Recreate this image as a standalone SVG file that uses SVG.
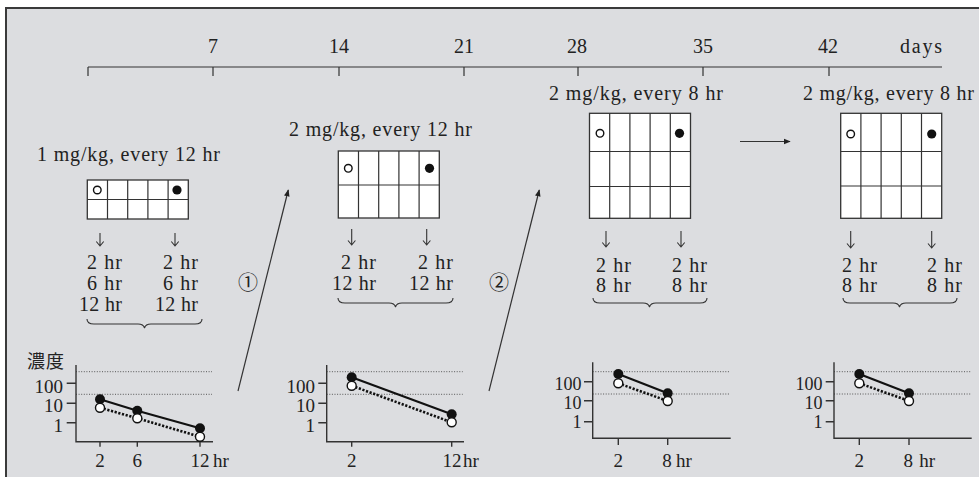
<svg xmlns="http://www.w3.org/2000/svg" width="979" height="477" viewBox="0 0 979 477">
<defs>
<style>
.t{font-family:"Liberation Serif","DejaVu Serif",serif;font-size:20px;fill:#222}
.ts{font-family:"Liberation Serif","DejaVu Serif",serif;font-size:19px;fill:#222}
.tk{font-family:"Liberation Serif","DejaVu Serif",serif;font-size:18px;fill:#222}
.jp{font-family:"Noto Sans CJK JP","Noto Sans CJK SC",sans-serif;font-size:18px;fill:#222}
.ln{stroke:#333;stroke-width:1.2;fill:none}
.ax{stroke:#333;stroke-width:1.4;fill:none}
.grid{fill:#fff;stroke:#333;stroke-width:1.3}
.gl{stroke:#333;stroke-width:1.2;fill:none}
.dot{stroke:#555;stroke-width:1;stroke-dasharray:1 1.6;fill:none}
.sol{stroke:#111;stroke-width:2.2;fill:none}
.dsh{stroke:#111;stroke-width:2.6;stroke-dasharray:2.2 1.6;fill:none}
.fc{fill:#111}
.oc{fill:#fff;stroke:#111;stroke-width:1.4}
.dn{stroke:#333;stroke-width:1.1;fill:none}
.br{stroke:#333;stroke-width:1.1;fill:none}
.mid{text-anchor:middle}
.end{text-anchor:end}
</style>
<marker id="ah" viewBox="0 0 10 10" refX="9" refY="5" markerWidth="7" markerHeight="7" markerUnits="userSpaceOnUse" orient="auto">
<path d="M0,1 L10,5 L0,9 Z" fill="#222"/>
</marker>
</defs>
<rect x="0" y="0" width="979" height="477" fill="#fff"/>
<rect x="6" y="8" width="990" height="490" fill="#dcdde0" stroke="#3a3a3a" stroke-width="2"/>

<g id="timeline">
<path class="ln" d="M88,67 H942 M88,67 V76 M213,67 V76 M339,67 V76 M464,67 V76 M578,67 V76 M703,67 V76 M829,67 V76"/>
<text class="t mid" x="213" y="53">7</text>
<text class="t mid" x="339" y="53">14</text>
<text class="t mid" x="464" y="53">21</text>
<text class="t mid" x="577" y="53">28</text>
<text class="t mid" x="703" y="53">35</text>
<text class="t mid" x="828" y="53">42</text>
<text class="t" x="900" y="53" textLength="42">days</text>
</g>

<g id="panel1">
<text class="t" x="37" y="161" textLength="183">1 mg/kg, every 12 hr</text>
<rect class="grid" x="87.3" y="180" width="101" height="39"/>
<path class="gl" d="M87.3,199.5 H188.3 M107.5,180 V219 M127.7,180 V219 M147.9,180 V219 M168.1,180 V219"/>
<circle class="oc" cx="97.3" cy="190" r="3.8"/>
<circle class="fc" cx="177" cy="190" r="4.6"/>
<path class="dn" d="M100,233 V246 M96.3,241.5 L100,246 L103.7,241.5 M175,233 V246 M171.3,241.5 L175,246 L178.7,241.5"/>
<text class="t end" x="122" y="269" textLength="35">2 hr</text>
<text class="t end" x="122" y="290" textLength="35">6 hr</text>
<text class="t end" x="122" y="311" textLength="43">12 hr</text>
<text class="t end" x="198" y="269" textLength="35">2 hr</text>
<text class="t end" x="198" y="290" textLength="35">6 hr</text>
<text class="t end" x="198" y="311" textLength="43">12 hr</text>
<path class="br" d="M87,319 Q87,324 94,324 L138,324 Q143.5,324 144.5,328 Q145.5,324 151,324 L195,324 Q202,324 202,319"/>
</g>

<g id="panel2">
<text class="t" x="289" y="136" textLength="183">2 mg/kg, every 12 hr</text>
<rect class="grid" x="338.3" y="151" width="101" height="67"/>
<path class="gl" d="M338.3,185 H439.3 M358.5,151 V218 M378.7,151 V218 M398.9,151 V218 M419.1,151 V218"/>
<circle class="oc" cx="348.3" cy="168.3" r="3.8"/>
<circle class="fc" cx="429.5" cy="168.3" r="4.6"/>
<path class="dn" d="M351.7,229 V245 M348,240.5 L351.7,245 L355.4,240.5 M426.7,229 V245 M423,240.5 L426.7,245 L430.4,240.5"/>
<text class="t end" x="376" y="269" textLength="35">2 hr</text>
<text class="t end" x="376" y="290" textLength="44">12 hr</text>
<text class="t end" x="453" y="269" textLength="35">2 hr</text>
<text class="t end" x="453" y="290" textLength="44">12 hr</text>
<path class="br" d="M338,298 Q338,303 345,303 L389,303 Q394.5,303 395.5,307 Q396.5,303 402,303 L446,303 Q453,303 453,298"/>
</g>

<g id="panel3">
<text class="t" x="549" y="100" textLength="174">2 mg/kg, every 8 hr</text>
<rect class="grid" x="589.5" y="113.3" width="101" height="105"/>
<path class="gl" d="M589.5,151.5 H690.5 M589.5,186.5 H690.5 M609.7,113.3 V218.3 M629.9,113.3 V218.3 M650.1,113.3 V218.3 M670.3,113.3 V218.3"/>
<circle class="oc" cx="600" cy="133.3" r="3.8"/>
<circle class="fc" cx="679.5" cy="133.3" r="4.6"/>
<path class="dn" d="M606,231 V247 M602.3,242.5 L606,247 L609.7,242.5 M681,231 V247 M677.3,242.5 L681,247 L684.7,242.5"/>
<text class="t end" x="631" y="272" textLength="35">2 hr</text>
<text class="t end" x="631" y="292" textLength="35">8 hr</text>
<text class="t end" x="707" y="272" textLength="35">2 hr</text>
<text class="t end" x="707" y="292" textLength="35">8 hr</text>
<path class="br" d="M593,298 Q593,303 600,303 L643,303 Q648.5,303 649.5,307 Q650.5,303 656,303 L700,303 Q707,303 707,298"/>
</g>

<g id="panel4">
<text class="t" x="803" y="100" textLength="171">2 mg/kg, every 8 hr</text>
<rect class="grid" x="840.7" y="113.3" width="101" height="105"/>
<path class="gl" d="M840.7,151.5 H941.7 M840.7,186 H941.7 M860.9,113.3 V218.3 M881.1,113.3 V218.3 M901.3,113.3 V218.3 M921.5,113.3 V218.3"/>
<circle class="oc" cx="850.7" cy="134" r="3.8"/>
<circle class="fc" cx="931.7" cy="134" r="4.6"/>
<path class="dn" d="M850.7,231 V248 M847,243.5 L850.7,248 L854.4,243.5 M931.7,231 V248 M928,243.5 L931.7,248 L935.4,243.5"/>
<text class="t end" x="877" y="272" textLength="35">2 hr</text>
<text class="t end" x="877" y="292" textLength="35">8 hr</text>
<text class="t end" x="962" y="272" textLength="35">2 hr</text>
<text class="t end" x="962" y="292" textLength="35">8 hr</text>
<path class="br" d="M843,298 Q843,303 850,303 L893,303 Q898.5,303 899.5,307 Q900.5,303 906,303 L950,303 Q957,303 957,298"/>
</g>

<g id="chart1">
<text class="jp" x="27" y="368" textLength="37">濃度</text>
<path class="dot" d="M76,371.7 H212 M76,394.3 H212"/>
<path class="ax" d="M76,365 V441.7 H213 M66.7,383.3 H76 M66.7,403.3 H76 M66.7,422.7 H76 M100,441.7 V446.7 M137.3,441.7 V446.7 M200,441.7 V446.7"/>
<text class="ts end" x="63" y="393">100</text>
<text class="ts end" x="63" y="412">10</text>
<text class="ts end" x="63" y="431.5">1</text>
<text class="ts mid" x="100" y="467">2</text>
<text class="ts mid" x="137.3" y="467">6</text>
<text class="ts mid" x="200" y="467">12</text>
<text class="ts" x="213" y="467">hr</text>
<polyline class="sol" points="100,399.3 137.3,410.7 200,428.3"/>
<polyline class="dsh" points="100,407.7 137.3,418.3 200,436.7"/>
<circle class="fc" cx="100" cy="399.3" r="5"/>
<circle class="fc" cx="137.3" cy="410.7" r="5"/>
<circle class="fc" cx="200" cy="428.3" r="5"/>
<circle class="oc" cx="100" cy="407.7" r="4.5"/>
<circle class="oc" cx="137.3" cy="418.3" r="4.5"/>
<circle class="oc" cx="200" cy="436.7" r="4.5"/>
</g>

<g id="chart2">
<path class="dot" d="M326.7,371.7 H462.7 M326.7,394.3 H462.7"/>
<path class="ax" d="M326.7,365 V441.7 H464 M318.3,383.3 H326.7 M318.3,403.3 H326.7 M318.3,422.7 H326.7 M351.7,441.7 V446.7 M451.7,441.7 V446.7"/>
<text class="ts end" x="315" y="393">100</text>
<text class="ts end" x="315" y="412">10</text>
<text class="ts end" x="315" y="431.5">1</text>
<text class="ts mid" x="351.7" y="467">2</text>
<text class="ts mid" x="452" y="467">12</text>
<text class="ts" x="463" y="467">hr</text>
<line class="sol" x1="351.7" y1="377.3" x2="451.7" y2="414.3"/>
<line class="dsh" x1="351.7" y1="385.7" x2="451.7" y2="422.3"/>
<circle class="fc" cx="351.7" cy="377.3" r="5"/>
<circle class="fc" cx="451.7" cy="414.3" r="5"/>
<circle class="oc" cx="351.7" cy="385.7" r="4.5"/>
<circle class="oc" cx="451.7" cy="422.3" r="4.5"/>
</g>

<g id="chart3">
<path class="dot" d="M592.7,371.7 H729.3 M592.7,394 H729.3"/>
<path class="ax" d="M592.7,362.3 V438.3 H730.7 M584,381.7 H592.7 M584,400.7 H592.7 M584,421.7 H592.7 M618.3,438.3 V445 M667.7,438.3 V445"/>
<text class="tk end" x="581.5" y="389.5">100</text>
<text class="tk end" x="581.5" y="408.5">10</text>
<text class="tk end" x="581.5" y="428">1</text>
<text class="ts mid" x="618.3" y="467">2</text>
<text class="ts mid" x="667" y="467">8</text>
<text class="ts" x="676" y="467">hr</text>
<line class="sol" x1="618.3" y1="374" x2="667.7" y2="393.3"/>
<line class="dsh" x1="618.3" y1="383.3" x2="667.7" y2="401"/>
<circle class="fc" cx="618.3" cy="374" r="5"/>
<circle class="fc" cx="667.7" cy="393.3" r="5"/>
<circle class="oc" cx="618.3" cy="383.3" r="4.5"/>
<circle class="oc" cx="667.7" cy="401" r="4.5"/>
</g>

<g id="chart4">
<path class="dot" d="M834,371.7 H971 M834,394 H971"/>
<path class="ax" d="M834,362.3 V438.3 H971.7 M825.7,381.7 H834 M825.7,400.7 H834 M825.7,421.7 H834 M859.3,438.3 V445 M909,438.3 V445"/>
<text class="tk end" x="822.5" y="389.5">100</text>
<text class="tk end" x="822.5" y="408.5">10</text>
<text class="tk end" x="822.5" y="428">1</text>
<text class="ts mid" x="859.3" y="467">2</text>
<text class="ts mid" x="908.3" y="467">8</text>
<text class="ts" x="919.3" y="467">hr</text>
<line class="sol" x1="859.3" y1="374" x2="909" y2="393.3"/>
<line class="dsh" x1="859.3" y1="383.3" x2="909" y2="401"/>
<circle class="fc" cx="859.3" cy="374" r="5"/>
<circle class="fc" cx="909" cy="393.3" r="5"/>
<circle class="oc" cx="859.3" cy="383.3" r="4.5"/>
<circle class="oc" cx="909" cy="401" r="4.5"/>
</g>

<g id="connectors">
<line class="ln" x1="238" y1="391" x2="288.3" y2="190" marker-end="url(#ah)"/>
<line class="ln" x1="489" y1="391" x2="539.3" y2="190" marker-end="url(#ah)"/>
<line class="ln" x1="740" y1="141.5" x2="790" y2="141.5" marker-end="url(#ah)"/>
</g>
<g id="labels">
<text class="jp mid" x="248" y="290" style="font-size:20px">①</text>
<text class="jp mid" x="499" y="290" style="font-size:20px">②</text>
</g>
</svg>
